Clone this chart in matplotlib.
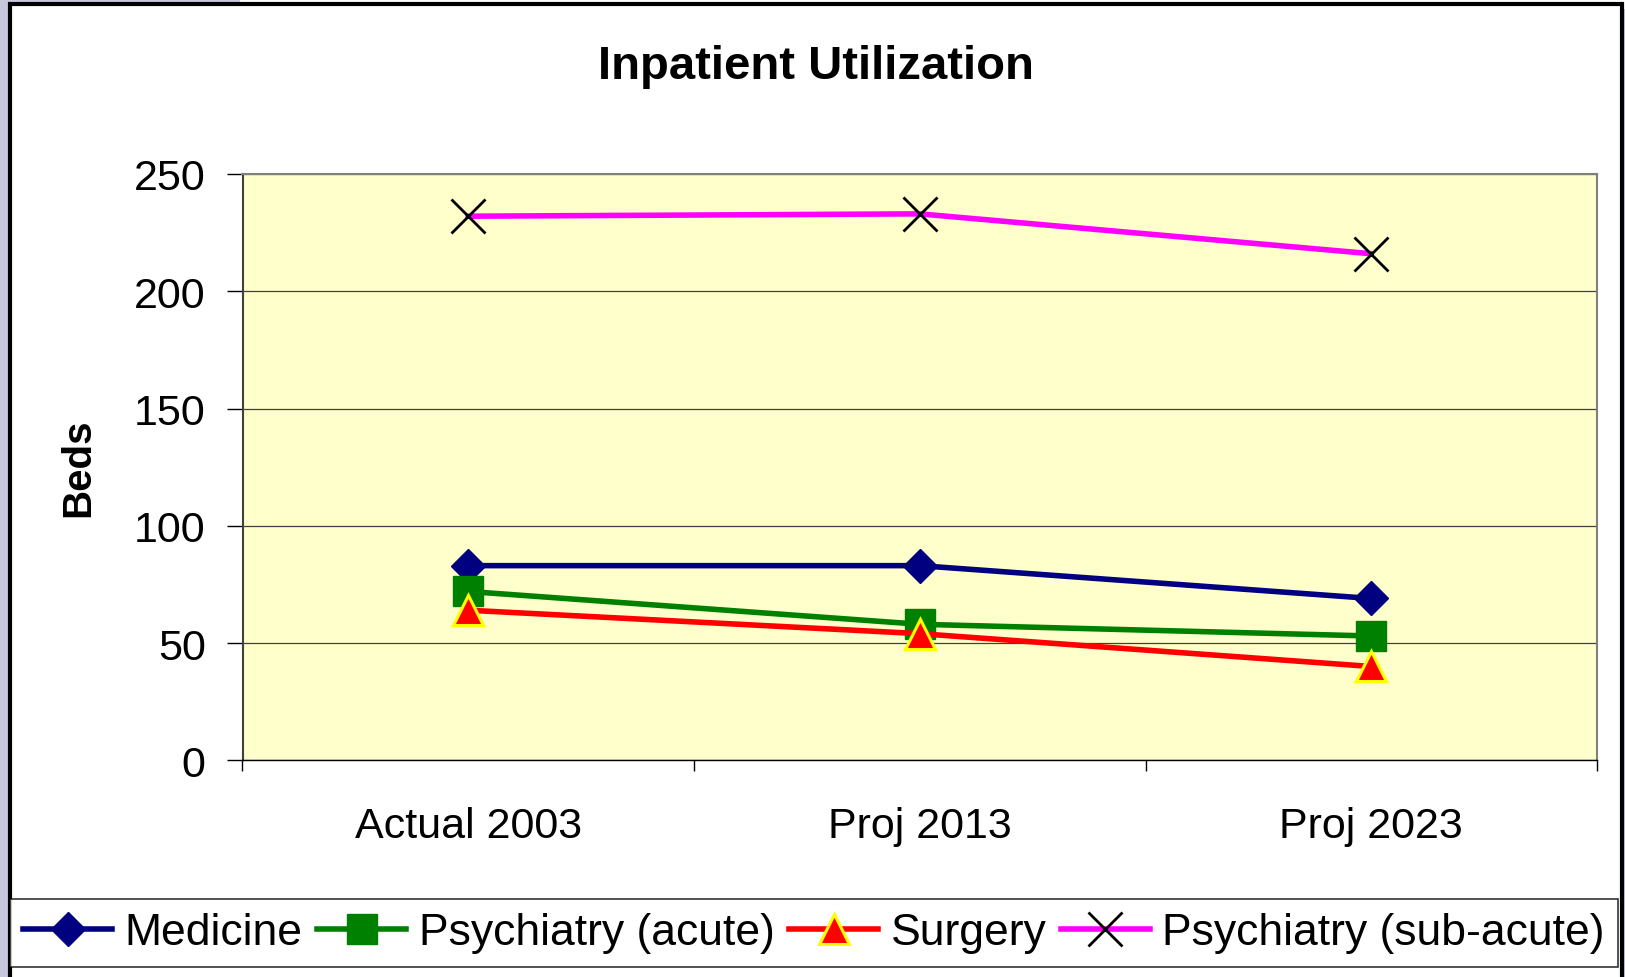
import matplotlib
matplotlib.use("Agg")
import matplotlib.pyplot as plt
from matplotlib.patches import Rectangle

plt.rcParams['font.family'] = ['Liberation Sans', 'DejaVu Sans']

# chart data
categories = ['Actual 2003', 'Proj 2013', 'Proj 2023']
medicine = [83, 83, 69]
psych_acute = [72, 58, 53]
surgery = [64, 54, 40]
psych_subacute = [232, 233, 216]

W, H = 1625, 978
fig = plt.figure(figsize=(W / 100, H / 100), dpi=100)
fig.patch.set_facecolor('#c8c8dc')

# white chart panel with the heavy black frame
fig.patches.append(Rectangle((240 / W, 0.99), 1 - 240 / W, 0.02, transform=fig.transFigure,
                             facecolor='white', edgecolor='none', zorder=0))
fig.patches.append(Rectangle((10 / W, -0.05), 1612 / W, 1.05 - 5 / H, transform=fig.transFigure,
                             facecolor='white', edgecolor='black', linewidth=3, zorder=0))

ax = fig.add_axes([242.5 / W, 1 - 761.3 / H, (1597 - 242.5) / W, (761.3 - 175) / H])
ax.set_zorder(2)
ax.set_facecolor('#ffffcc')

x = list(range(len(categories)))
ax.plot(x, medicine, color='#000080', lw=4, marker='D', ms=17, mfc='#000080', mec='#000080',
        label='Medicine', zorder=3)
ax.plot(x, psych_acute, color='#008000', lw=4, marker='s', ms=21, mfc='#008000', mec='#008000',
        label='Psychiatry (acute)', zorder=3)
ax.plot(x, surgery, color='#ff0000', lw=4, marker='^', ms=22, mfc='#ff0000', mec='#ffff00',
        mew=2.2, label='Surgery', zorder=4)
ax.plot(x, psych_subacute, color='#ff00ff', lw=4, marker='x', ms=24, mec='black', mew=2,
        label='Psychiatry (sub-acute)', zorder=3)

ax.set_xlim(-0.5, 2.5)
ax.set_ylim(0, 250)
ax.set_yticks([0, 50, 100, 150, 200, 250])
ax.yaxis.grid(True, color='#404040', lw=0.9)
ax.set_axisbelow(True)

# category labels sit between boundary ticks
ax.set_xticks([-0.5, 0.5, 1.5, 2.5])
ax.set_xticklabels([])
ax.set_xticks(x, minor=True)
ax.set_xticklabels(categories, minor=True)
ax.tick_params(axis='x', which='major', length=8, width=1, color='black')
ax.tick_params(axis='x', which='minor', length=0, pad=33, labelsize=31)
ax.tick_params(axis='y', length=11.5, width=1, pad=15, labelsize=31)

for s in ['top', 'right']:
    ax.spines[s].set_color('#808080')
    ax.spines[s].set_linewidth(1.5)
ax.spines['left'].set_color('#404040')
ax.spines['left'].set_linewidth(1.5)
ax.spines['bottom'].set_color('black')
ax.spines['bottom'].set_linewidth(1)

fig.text(816 / W, 1 - 67 / H, 'Inpatient Utilization', ha='center', va='center',
         fontsize=34, fontweight='bold')
fig.text(78 / W, 1 - 468 / H, 'Beds', ha='center', va='center', rotation=90,
         fontsize=29, fontweight='bold')

leg = fig.legend(loc='upper left', bbox_to_anchor=(10 / W, 1 - 900 / H), ncol=4,
                 fontsize=32, frameon=True, fancybox=False, edgecolor='black',
                 handlelength=2.0, handletextpad=0.28, columnspacing=0.33,
                 borderpad=0.3, borderaxespad=0)
leg.get_frame().set_linewidth(1.2)

fig.savefig('out.png', dpi=100, facecolor=fig.get_facecolor())
